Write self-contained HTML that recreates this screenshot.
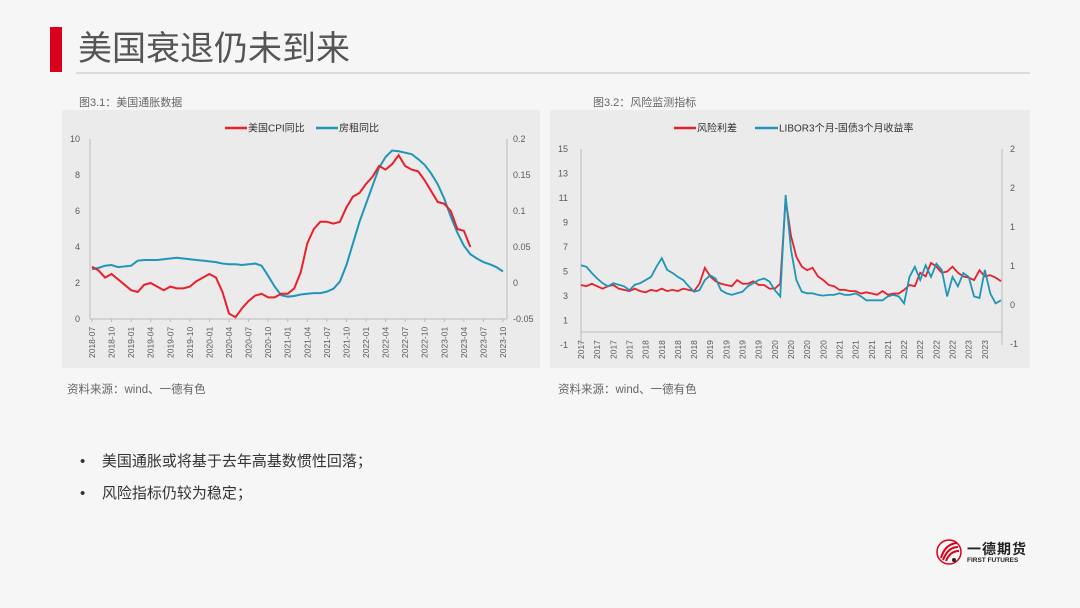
<!DOCTYPE html>
<html><head><meta charset="utf-8"><style>
body{margin:0;width:1080px;height:608px;background:#f6f6f6;font-family:"Liberation Sans","Noto Sans CJK SC",sans-serif;position:relative;overflow:hidden}
.abs{position:absolute}
</style></head><body>
<div class="abs" style="left:50px;top:27px;width:12px;height:45px;background:#d9001b"></div>
<div class="abs" style="left:78px;top:27px;font-size:34px;color:#555;line-height:44px">美国衰退仍未到来</div>
<div class="abs" style="left:76px;top:72px;width:954px;height:2px;background:#dcdcdc"></div>
<div class="abs" style="left:79px;top:94px;font-size:11px;color:#666">图3.1：美国通胀数据</div>
<div class="abs" style="left:593px;top:94px;font-size:11px;color:#666">图3.2：风险监测指标</div>
<svg class="abs" style="left:0;top:0" width="1080" height="608">
<rect x="62" y="110" width="478" height="258" fill="#ebebeb"/>
<rect x="550" y="110" width="480" height="258" fill="#ebebeb"/>
<g id="L"></g><g id="R"></g>
</svg>
<div class="abs" style="left:67px;top:381px;font-size:11.5px;color:#666">资料来源：wind、一德有色</div>
<div class="abs" style="left:558px;top:381px;font-size:11.5px;color:#666">资料来源：wind、一德有色</div>
<div class="abs" style="left:80px;top:450px;font-size:15px;color:#333">•&nbsp;&nbsp;&nbsp;&nbsp;美国通胀或将基于去年高基数惯性回落；</div>
<div class="abs" style="left:80px;top:482px;font-size:15px;color:#333">•&nbsp;&nbsp;&nbsp;&nbsp;风险指标仍较为稳定；</div>
<div class="abs" style="left:935px;top:538px;width:120px;height:30px;white-space:nowrap">
<svg width="30" height="30" style="position:absolute;left:0;top:0"><circle cx="14" cy="14" r="12" fill="none" stroke="#d9001b" stroke-width="1.5"/><path d="M6 20 Q10 6 22 5 M8 22 Q13 9 23 9 M11 23 Q15 13 24 13" stroke="#d9001b" stroke-width="2" fill="none"/><circle cx="19" cy="22" r="2" fill="#222"/></svg>
<div style="position:absolute;left:32px;top:1px;font-size:14px;font-weight:bold;color:#222;letter-spacing:1px;white-space:nowrap">一德期货</div>
<div style="position:absolute;left:32px;top:19px;font-size:6.5px;font-weight:bold;color:#222;white-space:nowrap">FIRST FUTURES</div>
</div>
<script>
const NS="http://www.w3.org/2000/svg";
function mk(p,t,a){const e=document.createElementNS(NS,t);for(const k in a)e.setAttribute(k,a[k]);p.appendChild(e);return e;}
// ---- Left chart data ----
const leftCats=["2018-07","2018-10","2019-01","2019-04","2019-07","2019-10","2020-01","2020-04","2020-07","2020-10","2021-01","2021-04","2021-07","2021-10","2022-01","2022-04","2022-07","2022-10","2023-01","2023-04","2023-07","2023-10"];
const cpiValues=[2.9,2.7,2.3,2.5,2.2,1.9,1.6,1.5,1.9,2.0,1.8,1.6,1.8,1.7,1.7,1.8,2.1,2.3,2.5,2.3,1.5,0.3,0.1,0.6,1.0,1.3,1.4,1.2,1.2,1.4,1.4,1.7,2.6,4.2,5.0,5.4,5.4,5.3,5.4,6.2,6.8,7.0,7.5,7.9,8.5,8.3,8.6,9.1,8.5,8.3,8.2,7.7,7.1,6.5,6.4,6.0,5.0,4.9,4.0];
const rentValues=[0.019,0.021,0.024,0.025,0.022,0.023,0.024,0.031,0.032,0.032,0.032,0.033,0.034,0.035,0.034,0.033,0.032,0.031,0.030,0.029,0.027,0.026,0.026,0.025,0.026,0.027,0.024,0.010,-0.005,-0.017,-0.019,-0.018,-0.016,-0.015,-0.014,-0.014,-0.012,-0.008,0.002,0.025,0.055,0.085,0.110,0.135,0.160,0.175,0.184,0.183,0.181,0.179,0.172,0.164,0.152,0.137,0.117,0.092,0.070,0.052,0.040,0.034,0.029,0.026,0.022,0.016];
const leftTicks=[0,2,4,6,8,10];
const leftRightTicks=[-0.05,0,0.05,0.1,0.15,0.2];
// ---- Right chart data ----
const rightCats=["2017","2017","2017","2017","2018","2018","2018","2018","2019","2019","2019","2019","2020","2020","2020","2020","2021","2021","2021","2021","2022","2022","2022","2022","2023","2023"];
const spreadValues=[3.9,3.8,4.0,3.8,3.6,3.8,3.9,3.6,3.5,3.4,3.6,3.4,3.3,3.5,3.4,3.6,3.4,3.5,3.4,3.6,3.5,3.4,4.0,5.3,4.6,4.2,4.0,3.9,3.8,4.3,4.0,4.0,4.2,3.9,3.9,3.6,3.6,4.0,10.9,7.9,6.2,5.4,5.1,5.3,4.6,4.3,3.9,3.8,3.5,3.5,3.4,3.4,3.2,3.3,3.2,3.1,3.4,3.1,3.2,3.2,3.5,3.9,3.8,4.9,4.6,5.7,5.4,4.9,5.0,5.4,4.9,4.6,4.5,4.3,5.1,4.6,4.7,4.5,4.2];
const liborValues=[0.51,0.49,0.41,0.34,0.28,0.24,0.28,0.26,0.24,0.19,0.26,0.28,0.32,0.36,0.49,0.60,0.45,0.41,0.36,0.32,0.24,0.17,0.19,0.32,0.38,0.34,0.19,0.15,0.13,0.15,0.17,0.24,0.28,0.32,0.34,0.30,0.19,0.11,1.41,0.71,0.32,0.17,0.15,0.15,0.13,0.12,0.13,0.13,0.15,0.13,0.13,0.15,0.11,0.06,0.06,0.06,0.06,0.11,0.13,0.11,0.02,0.36,0.49,0.32,0.51,0.36,0.53,0.45,0.11,0.36,0.24,0.41,0.36,0.11,0.09,0.45,0.15,0.02,0.06];
const rightTicks=[-1,1,3,5,7,9,11,13,15];
const rightRightTicks=[-0.5,0,0.5,1,1.5,2];
const rightRightLabels=["-1","0","1","1","2","2"];

const gray="#595959",red="#e8202a",blue="#1f95b8";
// ---- Left chart ----
(function(){
const g=document.getElementById("L");
const x=i=>92+i*(503-92)/63;
const y=v=>319-v*18;
const y2=v=>319-(v+0.05)*720;
mk(g,"line",{x1:90,y1:139,x2:90,y2:319,stroke:"#bbb",});
mk(g,"line",{x1:507,y1:139,x2:507,y2:319,stroke:"#bbb",});
mk(g,"line",{x1:90,y1:319,x2:507,y2:319,stroke:"#bbb",});
leftTicks.forEach(v=>{const t=mk(g,"text",{x:80,y:y(v)+3,"text-anchor":"end","font-size":9,fill:gray});t.textContent=v;

});
leftRightTicks.forEach(v=>{const t=mk(g,"text",{x:513,y:y2(v)+3,"font-size":9,fill:gray});t.textContent=v;

});
leftCats.forEach((c,i)=>{const xx=x(i*3);const t=mk(g,"text",{transform:`translate(${xx+3},${358}) rotate(-90)`,"font-size":8.5,fill:gray});t.textContent=c;


mk(g,"line",{x1:xx,y1:319,x2:xx,y2:322,stroke:"#bbb"});});
const p1=mk(g,"polyline",{points:rentValues.map((v,i)=>x(i)+","+y2(v)).join(" "),fill:"none",stroke:blue,"stroke-width":2});


const p2=mk(g,"polyline",{points:cpiValues.map((v,i)=>x(i)+","+y(v)).join(" "),fill:"none",stroke:red,"stroke-width":2});


mk(g,"line",{x1:225,y1:128,x2:247,y2:128,stroke:red,"stroke-width":2.5});
let t=mk(g,"text",{x:248,y:131.5,"font-size":10,fill:"#333"});t.textContent="美国CPI同比";


mk(g,"line",{x1:316,y1:128,x2:338,y2:128,stroke:blue,"stroke-width":2.5});
t=mk(g,"text",{x:339,y:131.5,"font-size":10,fill:"#333"});t.textContent="房租同比";


})();
// ---- Right chart ----
(function(){
const g=document.getElementById("R");
const x=i=>581+i*(1001-581)/78;
const y=v=>345-(v+1)*12.25;
const y2=v=>305-v*78;
mk(g,"line",{x1:581,y1:149,x2:581,y2:345,stroke:"#bbb",});
mk(g,"line",{x1:1002,y1:149,x2:1002,y2:345,stroke:"#bbb",});
mk(g,"line",{x1:581,y1:332,x2:1002,y2:332,stroke:"#bbb",});
rightTicks.forEach(v=>{const t=mk(g,"text",{x:568,y:y(v)+3,"text-anchor":"end","font-size":9,fill:gray});t.textContent=v;

});
rightRightTicks.forEach((v,i)=>{const t=mk(g,"text",{x:1010,y:y2(v)+3,"font-size":9,fill:gray});t.textContent=rightRightLabels[i];

});
rightCats.forEach((c,i)=>{const xx=x(i*3);const t=mk(g,"text",{transform:`translate(${xx+3},${359}) rotate(-90)`,"font-size":8.5,fill:gray});t.textContent=c;

});
const p1=mk(g,"polyline",{points:spreadValues.slice(0,79).map((v,i)=>x(i)+","+y(v)).join(" "),fill:"none",stroke:red,"stroke-width":1.8});


const p2=mk(g,"polyline",{points:liborValues.slice(0,79).map((v,i)=>x(i)+","+y2(v)).join(" "),fill:"none",stroke:blue,"stroke-width":1.8});


mk(g,"line",{x1:674,y1:128,x2:696,y2:128,stroke:red,"stroke-width":2.5});
let t=mk(g,"text",{x:697,y:131.5,"font-size":10,fill:"#333"});t.textContent="风险利差";


mk(g,"line",{x1:755,y1:128,x2:778,y2:128,stroke:blue,"stroke-width":2.5});
t=mk(g,"text",{x:779,y:131.5,"font-size":10,fill:"#333"});t.textContent="LIBOR3个月-国债3个月收益率";


})();
</script>
</body></html>
